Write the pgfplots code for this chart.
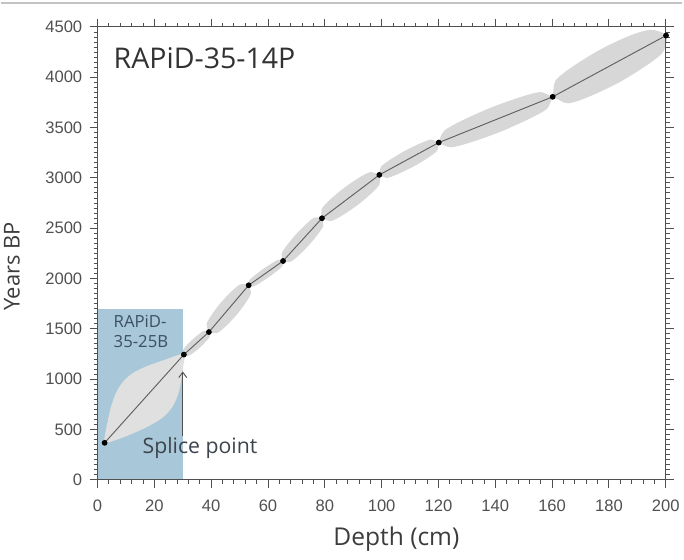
\documentclass[border=0pt]{standalone}
\usepackage{fontspec}
\setmainfont{Liberation Sans}
\newfontfamily\lab{Open Sans}
\usepackage{pgfplots}
\pgfplotsset{compat=1.18}
\usetikzlibrary{arrows.meta}
\definecolor{boxblue}{RGB}{168,199,216}
\definecolor{band}{RGB}{215,215,215}
\definecolor{bandin}{RGB}{224,224,224}
\definecolor{axgray}{RGB}{80,80,80}
\definecolor{txtblue}{RGB}{60,80,98}
\definecolor{linegray}{RGB}{95,95,95}
\begin{document}
\begin{tikzpicture}[x=0.75pt,y=0.75pt]
\path (-97,-80) rectangle (587,482);
\draw[line width=1.5pt, color={rgb,255:red,195;green,195;blue,195}] (-97,479) -- (587,479);
\begin{axis}[at={(0,0)}, anchor=south west, scale only axis,
  width=428.25pt, height=341.25pt,
  xmin=0, xmax=200, ymin=0, ymax=4500,
  xtick={0,20,...,200}, ytick={0,500,...,4500},
  minor x tick num=4, minor y tick num=9,
  tick align=outside, tickwidth=6pt, subtickwidth=3pt,
  axis line style={axgray, line width=0.8pt},
  major tick style={axgray, line width=0.7pt},
  minor tick style={axgray, line width=0.6pt},
  tick label style={font=\fontsize{12.5}{12.5}\selectfont, text=axgray},
  xticklabel style={yshift=-6pt},
  yticklabel style={xshift=-2pt},
  /pgf/number format/assume math mode=true,
  /pgf/number format/1000 sep={},
  axis on top, clip=false]
% blue box
\addplot[fill=boxblue, draw=none] coordinates {(0,0) (30,0) (30,1700) (0,1700)} -- cycle;
% band, first segment (inside box)
\addplot[fill=bandin, draw=none, smooth, tension=0.5] coordinates {
(2.15,355) (2.6,440) (3.4,560) (4.8,730) (6.8,880) (9.5,990) (13,1070) (18,1135) (23,1185) (27.5,1230) (30.03,1254)
(30.77,1232) (30.3,1150) (29.6,1010) (28.5,860) (26.5,730) (23.5,630) (19.5,555) (14,478) (9,420) (5,380) } -- cycle;
% band, remaining segments
\addplot[fill=band, draw=none, smooth, tension=0.5] coordinates {
(30.03,1254)
(30.13,1291) (31.41,1337) (33.51,1395) (35.81,1449) (37.53,1480) (38.83,1477)
(38.42,1550) (40.26,1642) (43.53,1764) (47.26,1874) (50.18,1940) (52.85,1943)
(53.40,1982) (55.29,2030) (58.24,2093) (61.34,2150) (63.56,2185) (64.95,2184)
(64.81,2248) (66.71,2331) (69.95,2442) (73.56,2544) (76.31,2605) (78.65,2609)
(78.98,2694) (81.93,2785) (86.78,2900) (92.03,3001) (95.94,3056) (98.92,3041)
(99.79,3111) (103.05,3181) (108.15,3268) (113.50,3341) (117.35,3380) (119.88,3363)
(122.12,3470) (128.58,3573) (138.45,3697) (148.63,3800) (155.80,3852) (159.98,3818)
(161.22,3967) (167.31,4107) (176.98,4275) (187.26,4412) (194.74,4470) (200.2,4414)
(199.08,4252) (193.00,4112) (183.32,3944) (173.05,3807) (165.56,3740) (160.42,3792)
(158.18,3685) (151.73,3583) (141.85,3458) (131.68,3355) (124.50,3303) (120.32,3337)
(119.51,3268) (116.26,3198) (111.15,3111) (105.81,3038) (101.95,2999) (99.48,3017)
(99.22,2933) (96.27,2842) (91.42,2727) (86.17,2627) (82.26,2571) (79.35,2587)
(79.49,2523) (77.60,2440) (74.35,2329) (70.75,2227) (67.99,2166) (65.65,2162)
(65.10,2123) (63.22,2075) (60.26,2012) (57.17,1955) (54.94,1921) (53.55,1921)
(53.98,1849) (52.14,1757) (48.87,1635) (45.14,1525) (42.22,1459) (39.58,1457)
(39.47,1419) (38.19,1374) (36.09,1315) (33.79,1262) (32.07,1231) (30.77,1232) } -- cycle;
% age-depth line
\addplot[color=linegray, line width=0.7pt, mark=*, mark size=1.8pt, mark options={fill=black, draw=black}] coordinates {
(2.5,366) (30.4,1243) (39.2,1467) (53.2,1932) (65.3,2173) (79.0,2598) (99.2,3029) (120.1,3350) (160.2,3805) (200.1,4414)};
% splice arrow
\addplot[color=axgray, line width=0.7pt, -{Straight Barb[length=4pt,width=6pt]}, forget plot] coordinates {(30,430) (30,1075)};
\node[anchor=north west, inner sep=0pt, font=\lab\fontsize{21.5}{21.5}\selectfont, text={rgb,255:red,50;green,50;blue,50}] at (rel axis cs:0.028,0.954) {RAPiD-35-14P};
\node[anchor=north west, inner sep=0pt, align=left, font=\lab\fontsize{12.6}{15}\selectfont, text=txtblue] at (rel axis cs:0.028,0.363) {RAPiD-\\35-25B};
\node[anchor=base west, inner sep=0pt, font=\lab\fontsize{16}{16}\selectfont, text={rgb,255:red,60;green,68;blue,78}] at (axis cs:15.8,257) {Splice point};
\node[anchor=base, inner sep=0pt, font=\lab\fontsize{18.5}{18.5}\selectfont, text={rgb,255:red,60;green,60;blue,60}] at (rel axis cs:0.526,-0.145) {Depth (cm)};
\node[anchor=center, rotate=90, inner sep=0pt, font=\lab\fontsize{16.5}{16.5}\selectfont, text={rgb,255:red,60;green,60;blue,60}] at (rel axis cs:-0.1506,0.471) {Years BP};
\end{axis}
\end{tikzpicture}
\end{document}
